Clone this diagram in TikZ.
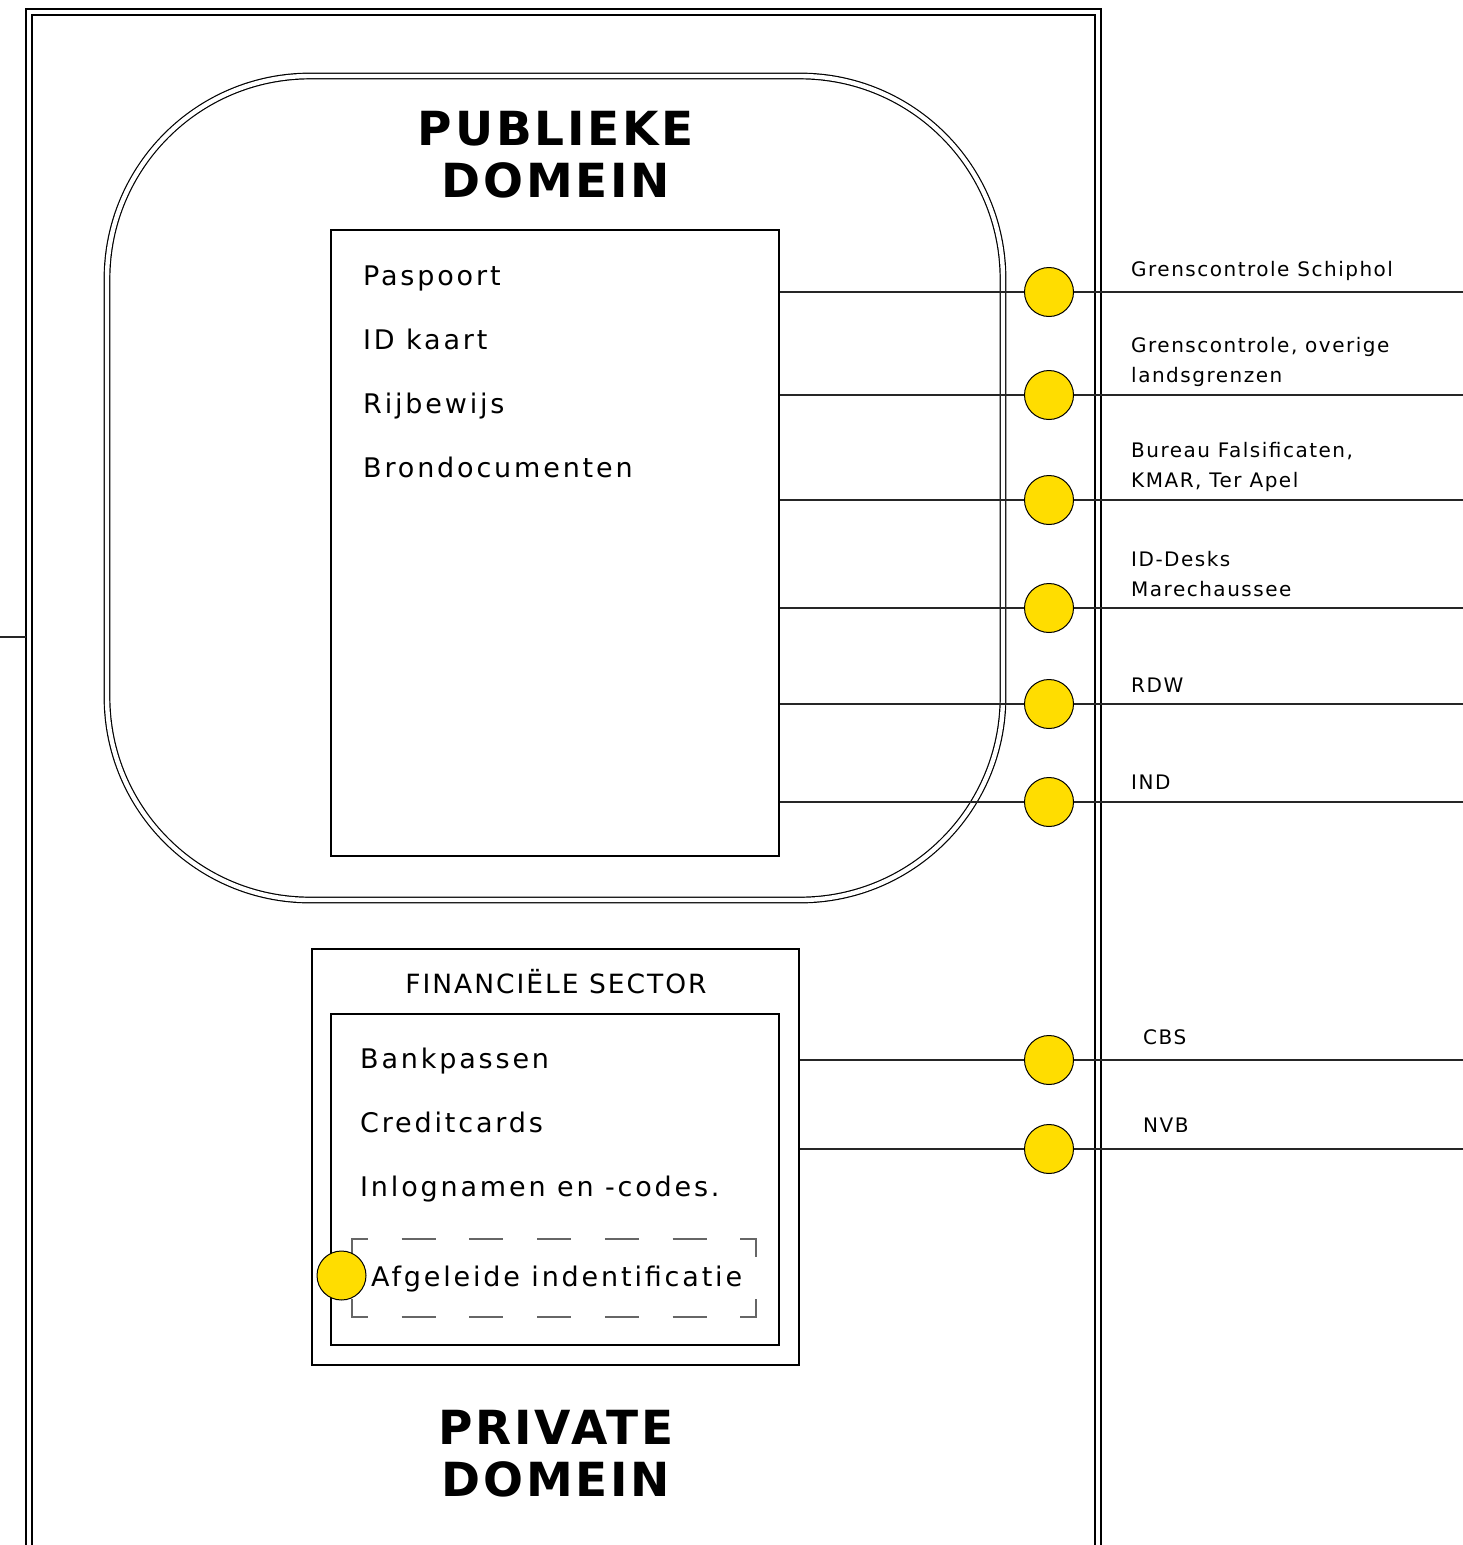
\documentclass[tikz,border=0pt]{standalone}
\usepackage{fontspec}
\setmainfont{DejaVu Sans}
\newfontfamily\labfont{DejaVu Sans}[LetterSpace=10.5]
\newfontfamily\sidefont{DejaVu Sans}[LetterSpace=7.5]
\newfontfamily\titlefont{DejaVu Sans Bold}[LetterSpace=6]
\definecolor{dotyellow}{RGB}{255,221,0}
\begin{document}
\begin{tikzpicture}[x=1pt,y=-1pt,
  frameline/.style={line width=1.4pt},
  boxline/.style={draw,line width=1.6pt},
  conn/.style={line width=1.2pt,draw=black!85},
  dot/.style={circle,draw,line width=1pt,fill=dotyellow,minimum size=49pt,inner sep=0pt},
  itemtext/.style={anchor=base west,inner sep=0pt,font=\labfont\fontsize{27}{32}\selectfont},
  sidetext/.style={anchor=base west,inner sep=0pt,font=\sidefont\fontsize{20}{24}\selectfont},
  titletext/.style={anchor=base,inner sep=0pt,font=\titlefont\fontsize{47}{52}\selectfont},
  dashline/.style={line width=1.2pt,draw=black!60,dash pattern=on 34pt off 33.7pt}]
\useasboundingbox (0,0) rectangle (1463,1545);
% outer frame (open at bottom)
\draw[frameline] (26,1560) -- (26,9) -- (1101,9) -- (1101,1560);
\draw[frameline] (32,1560) -- (32,15) -- (1095,15) -- (1095,1560);
\coordinate (lf) at (0,637);
\coordinate (lfe) at (26,637);
\draw[conn] (lf) -- (lfe);
% public domain rounded double frame
\draw[line width=1.2pt,double=white,double distance=4.4pt,rounded corners=203pt] (107,76) rectangle (1003,900);
\node[titletext] (t1) at (556,145) {PUBLIEKE};
\node[titletext] (t2) at (556,197) {DOMEIN};
% documents box
\node[boxline,minimum width=448pt,minimum height=626pt,inner sep=0pt] (docs) at (555,543) {};
\node[itemtext] (i1) at (363,285) {Paspoort};
\node[itemtext] (i2) at (363,349) {ID kaart};
\node[itemtext] (i3) at (363,413) {Rijbewijs};
\node[itemtext] (i4) at (363,477) {Brondocumenten};
% connectors public
\foreach \n/\yy in {1/292,2/395,3/500,4/608,5/704,6/802}{
  \coordinate (s\n) at (docs.east |- 0,\yy);
  \coordinate (e\n) at (1463,\yy);
  \draw[conn] (s\n) -- (e\n);
  \node[dot] (c\n) at (1049,\yy) {};
}
\node[sidetext] (l1) at (1131,276) {Grenscontrole Schiphol};
\node[sidetext] (l2a) at (1131,352) {Grenscontrole, overige};
\node[sidetext] (l2b) at (1131,382) {landsgrenzen};
\node[sidetext] (l3a) at (1131,457) {Bureau Falsificaten,};
\node[sidetext] (l3b) at (1131,487) {KMAR, Ter Apel};
\node[sidetext] (l4a) at (1131,566) {ID-Desks};
\node[sidetext] (l4b) at (1131,596) {Marechaussee};
\node[sidetext] (l5) at (1131,692) {RDW};
\node[sidetext] (l6) at (1131,789) {IND};
% financial sector
\node[boxline,line width=2pt,minimum width=487pt,minimum height=416pt,inner sep=0pt] (fin) at (555.5,1157) {};
\node[anchor=base,inner sep=0pt,font=\sidefont\fontsize{26.5}{30}\selectfont] (fint) at (556,993) {FINANCIËLE SECTOR};
\node[boxline,line width=2pt,minimum width=448pt,minimum height=331pt,inner sep=0pt] (finin) at (555,1179.5) {};
\node[itemtext] (b1) at (360,1068) {Bankpassen};
\node[itemtext] (b2) at (360,1132) {Creditcards};
\node[itemtext] (b3) at (360,1196) {Inlognamen en -codes.};
% dashed box
\draw[dashline] (352,1257) -- (352,1239) -- (756,1239) -- (756,1257);
\draw[dashline] (352,1299) -- (352,1317) -- (756,1317) -- (756,1299);
\node[dot] (ca) at (341.5,1275.5) {};
\node[itemtext] (b4) at (371,1286) {Afgeleide indentificatie};
% connectors financial
\foreach \n/\yy in {7/1060,8/1149}{
  \coordinate (s\n) at (fin.east |- 0,\yy);
  \coordinate (e\n) at (1463,\yy);
  \draw[conn] (s\n) -- (e\n);
  \node[dot] (c\n) at (1049,\yy) {};
}
\node[sidetext] (l7) at (1143,1044) {CBS};
\node[sidetext] (l8) at (1143,1132) {NVB};
\node[titletext] (t3) at (556,1444) {PRIVATE};
\node[titletext] (t4) at (556,1496) {DOMEIN};
\end{tikzpicture}
\end{document}
